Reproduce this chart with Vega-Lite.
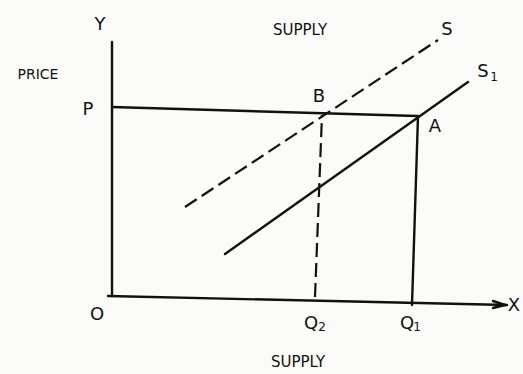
{
  "$schema": "https://vega.github.io/schema/vega-lite/v6.json",
  "width": 523,
  "height": 374,
  "autosize": {"type": "fit", "contains": "padding"},
  "padding": 0,
  "background": "#fbfbf9",
  "config": {"view": {"stroke": null}},
  "datasets": {
    "solid": [
      {"id": "yaxis", "x": 0, "y": 254}, {"id": "yaxis", "x": 0, "y": 0},
      {"id": "xaxis", "x": -4, "y": 0}, {"id": "xaxis", "x": 395, "y": -9},
      {"id": "arrow1", "x": 393, "y": -9}, {"id": "arrow1", "x": 381, "y": -5},
      {"id": "arrow2", "x": 393, "y": -9}, {"id": "arrow2", "x": 381, "y": -12},
      {"id": "P", "x": 0, "y": 189}, {"id": "P", "x": 305, "y": 180},
      {"id": "S1", "x": 113, "y": 42}, {"id": "S1", "x": 356, "y": 214},
      {"id": "Q1", "x": 306, "y": 180}, {"id": "Q1", "x": 300, "y": -9}
    ],
    "dashed": [
      {"id": "S", "x": 73, "y": 89}, {"id": "S", "x": 326, "y": 256},
      {"id": "Q2", "x": 210, "y": 181}, {"id": "Q2", "x": 203, "y": -1}
    ],
    "labels": [
      {"label": "Y", "x": -12, "y": 271},
      {"label": "S", "x": 335, "y": 266},
      {"label": "S", "x": 371, "y": 224},
      {"label": "P", "x": -24, "y": 186},
      {"label": "B", "x": 207, "y": 199},
      {"label": "A", "x": 323, "y": 169},
      {"label": "O", "x": -15, "y": -19},
      {"label": "Q", "x": 199, "y": -28},
      {"label": "Q", "x": 295, "y": -28},
      {"label": "X", "x": 402, "y": -10}
    ],
    "titles": [
      {"label": "SUPPLY", "x": 188, "y": 266},
      {"label": "SUPPLY", "x": 186, "y": -66}
    ],
    "small": [
      {"label": "PRICE", "x": -74, "y": 221}
    ],
    "subs": [
      {"label": "1", "x": 382, "y": 219},
      {"label": "2", "x": 210, "y": -31},
      {"label": "1", "x": 305, "y": -31}
    ]
  },
  "encoding": {
    "x": {"field": "x", "type": "quantitative", "scale": {"domain": [-112, 411], "nice": false, "zero": false}, "axis": null},
    "y": {"field": "y", "type": "quantitative", "scale": {"domain": [-78, 296], "nice": false, "zero": false}, "axis": null}
  },
  "layer": [
    {
      "data": {"name": "solid"},
      "mark": {"type": "line", "color": "#111111", "strokeWidth": 2.4, "strokeCap": "round"},
      "encoding": {"detail": {"field": "id"}}
    },
    {
      "data": {"name": "dashed"},
      "mark": {"type": "line", "color": "#111111", "strokeWidth": 2.2, "strokeDash": [14, 6]},
      "encoding": {"detail": {"field": "id"}}
    },
    {
      "data": {"name": "labels"},
      "mark": {"type": "text", "font": "DejaVu Sans", "fontSize": 18, "color": "#111111", "align": "center", "baseline": "middle"},
      "encoding": {"text": {"field": "label"}}
    },
    {
      "data": {"name": "titles"},
      "mark": {"type": "text", "font": "DejaVu Sans", "fontSize": 15, "color": "#111111", "align": "center", "baseline": "middle"},
      "encoding": {"text": {"field": "label"}}
    },
    {
      "data": {"name": "small"},
      "mark": {"type": "text", "font": "DejaVu Sans", "fontSize": 14, "color": "#111111", "align": "center", "baseline": "middle"},
      "encoding": {"text": {"field": "label"}}
    },
    {
      "data": {"name": "subs"},
      "mark": {"type": "text", "font": "DejaVu Sans", "fontSize": 12, "color": "#111111", "align": "center", "baseline": "middle"},
      "encoding": {"text": {"field": "label"}}
    }
  ]
}
